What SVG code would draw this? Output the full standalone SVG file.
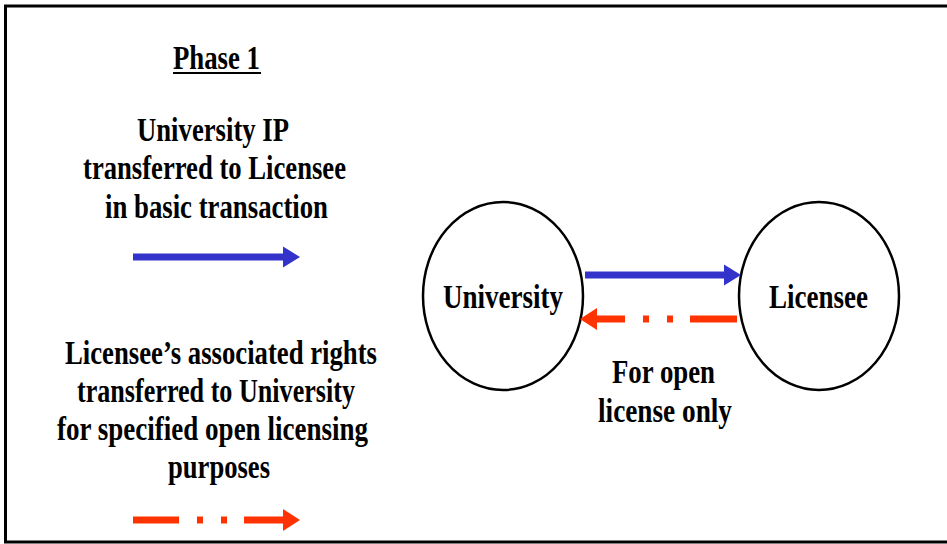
<svg xmlns="http://www.w3.org/2000/svg" width="947" height="544" viewBox="0 0 947 544">
<style>
.t{font-family:"Liberation Serif","Times New Roman",serif;font-weight:bold;font-size:33px;fill:#000;text-anchor:middle}
.node{fill:#fff;stroke:#000;stroke-width:2.5}
.blue{stroke:#3333CC;stroke-width:7;fill:none}
.red{stroke:#FF3300;stroke-width:7;fill:none}
</style>
<defs>
<marker id="hb" markerUnits="userSpaceOnUse" markerWidth="18" markerHeight="22" refX="0" refY="10.5" orient="auto" overflow="visible">
<path d="M0,0 L17,10.5 L0,21 z" fill="#3333CC"/>
</marker>
<marker id="hr" markerUnits="userSpaceOnUse" markerWidth="18" markerHeight="22" refX="0" refY="11" orient="auto" overflow="visible">
<path d="M0,0 L17,11 L0,22 z" fill="#FF3300"/>
</marker>
</defs>
<rect x="0" y="0" width="947" height="544" fill="#fff"/>
<rect x="5.5" y="6" width="960" height="536" fill="none" stroke="#000" stroke-width="3"/>
<g id="legend">
<text class="t" x="216.5" y="69" textLength="87" lengthAdjust="spacingAndGlyphs">Phase 1</text>
<rect x="173" y="72" width="88" height="2" fill="#000"/>
<text class="t" x="213" y="141" textLength="152" lengthAdjust="spacingAndGlyphs">University IP</text>
<text class="t" x="214.5" y="179" textLength="263" lengthAdjust="spacingAndGlyphs">transferred to Licensee</text>
<text class="t" x="216.5" y="218" textLength="223" lengthAdjust="spacingAndGlyphs">in basic transaction</text>
<line class="blue" x1="133" y1="257" x2="283" y2="257" marker-end="url(#hb)"/>
<text class="t" x="221" y="364" textLength="312" lengthAdjust="spacingAndGlyphs">Licensee’s associated rights</text>
<text class="t" x="216" y="402" textLength="278" lengthAdjust="spacingAndGlyphs">transferred to University</text>
<text class="t" x="212.5" y="440" textLength="311" lengthAdjust="spacingAndGlyphs">for specified open licensing</text>
<text class="t" x="219" y="478" textLength="102" lengthAdjust="spacingAndGlyphs">purposes</text>
<line class="red" x1="133" y1="520" x2="283" y2="520" stroke-dasharray="46 18 6 18 6 17 39 100" marker-end="url(#hr)"/>
</g>
<g id="university">
<ellipse class="node" cx="503" cy="296" rx="80" ry="94"/>
<text class="t" x="503" y="308" textLength="120" lengthAdjust="spacingAndGlyphs">University</text>
</g>
<g id="licensee">
<ellipse class="node" cx="819" cy="296" rx="80" ry="94"/>
<text class="t" x="818.5" y="308" textLength="99" lengthAdjust="spacingAndGlyphs">Licensee</text>
</g>
<g id="connectors">
<line class="blue" x1="585" y1="275" x2="724" y2="275" marker-end="url(#hb)"/>
<line class="red" x1="737" y1="319" x2="597" y2="319" stroke-dasharray="47 17 6 18 6 18 28 100" marker-end="url(#hr)"/>
<text class="t" x="663.5" y="383" textLength="103" lengthAdjust="spacingAndGlyphs">For open</text>
<text class="t" x="665" y="422" textLength="134" lengthAdjust="spacingAndGlyphs">license only</text>
</g>
</svg>
